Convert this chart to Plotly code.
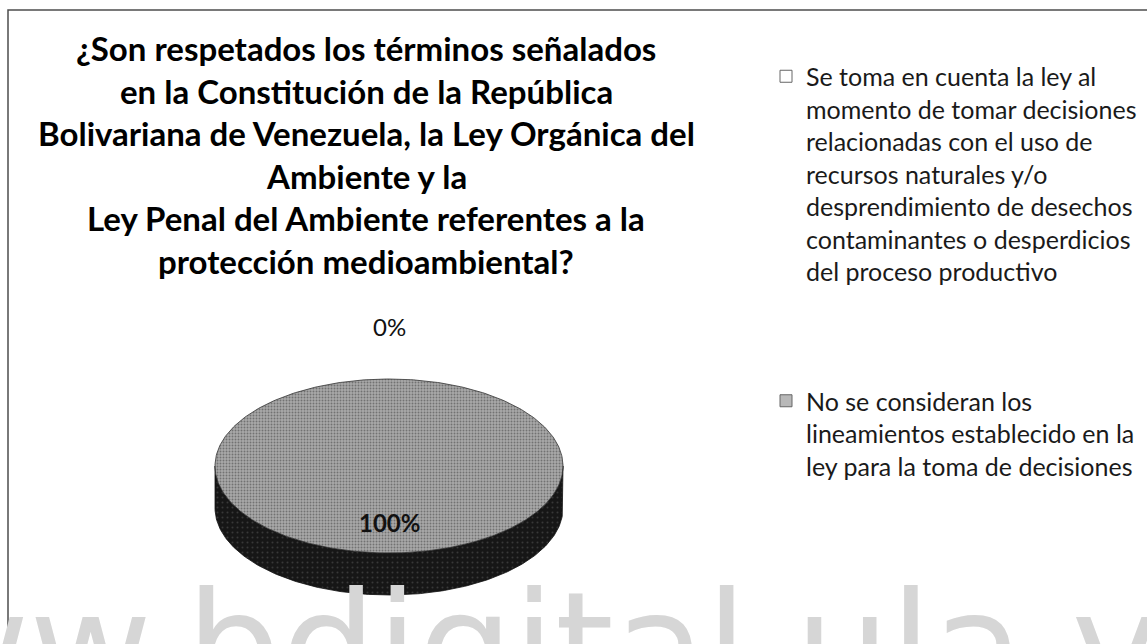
import numpy as np
import plotly.graph_objects as go

# ---------------- data ----------------
categories = [
    "Se toma en cuenta la ley al<br>momento de tomar decisiones<br>relacionadas con el uso de<br>recursos naturales y/o<br>desprendimiento de desechos<br>contaminantes o desperdicios<br>del proceso productivo",
    "No se consideran los<br>lineamientos establecido en la<br>ley para la toma de decisiones",
]
values = [0, 100]
pct_labels = ["0%", "100%"]
title_lines = [
    "¿Son respetados los términos señalados",
    "en la Constitución de la República",
    "Bolivariana de Venezuela, la Ley Orgánica del",
    "Ambiente y la",
    "Ley Penal del Ambiente referentes a la",
    "protección medioambiental?",
]
watermark = "www.bdigital.ula.ve"

# ---------------- styles ----------------
W, H = 1147, 644
cx, cy, rx, ry, depth = 389, 466, 174, 87, 42
top_colors = ["#f4f4f4", "#a9a9a9"]
side_colors = ["#9a9a9a", "#161616"]

total = float(sum(values))
slices = []
start = 90.0
for v in values:
    sweep = 360.0 * v / total
    slices.append((start - sweep, start))
    start -= sweep


def ell(theta_deg, dy=0.0):
    t = np.radians(theta_deg)
    return cx + rx * np.cos(t), cy - ry * np.sin(t) + dy


fig = go.Figure()

# sides (front part of each slice)
for i, (a1, a0) in enumerate(slices):
    if a0 - a1 <= 0:
        continue
    for k in range(-2, 3):
        f0, f1 = -180 + 360 * k, 0 + 360 * k
        b0, b1 = max(a1, f0), min(a0, f1)
        if b1 - b0 <= 0:
            continue
        th = np.linspace(b0, b1, 200)
        xt, yt = ell(th)
        xb, yb = ell(th[::-1], depth)
        fig.add_trace(go.Scatter(
            x=np.concatenate([xt, xb, xt[:1]]),
            y=np.concatenate([yt, yb, yt[:1]]),
            mode="lines", fill="toself",
            fillcolor=side_colors[i],
            fillpattern=dict(shape=".", fgcolor="#5a5a5a", bgcolor=side_colors[i], size=5, solidity=0.12),
            line=dict(color="#111111", width=0.8),
            showlegend=False, hoverinfo="skip"))

# top faces
for i, (a1, a0) in enumerate(slices):
    if a0 - a1 <= 0:
        continue
    th = np.linspace(a0, a1, 400)
    xa, ya = ell(th)
    if a0 - a1 >= 359.999:
        xs, ys = xa, ya
    else:
        xs = np.concatenate([[cx], xa, [cx]])
        ys = np.concatenate([[cy], ya, [cy]])
    fig.add_trace(go.Scatter(
        x=xs, y=ys, mode="lines", fill="toself",
        fillcolor=top_colors[i],
        fillpattern=dict(shape=".", fgcolor="#3c3c3c", bgcolor=top_colors[i], size=3, solidity=0.35),
        line=dict(color="#333333", width=0.8),
        showlegend=False, hoverinfo="skip"))

# legend entries
leg_fill = ["#ffffff", "#b8b8b8"]
for i, name in enumerate(categories):
    fig.add_trace(go.Scatter(
        x=[None], y=[None], mode="markers", name=name, legendgroup=f"g{i}",
        marker=dict(symbol="square", size=12, color=leg_fill[i], line=dict(color="#666666", width=1))))

annotations = []
# percentage labels
for i, (a1, a0) in enumerate(slices):
    mid = (a0 + a1) / 2.0
    share = values[i] / total
    t = np.radians(mid)
    if share < 0.05:
        lx, ly = cx + rx * 1.0 * np.cos(t), cy - ry * 1.6 * np.sin(t)
        txt = pct_labels[i]
    else:
        lx, ly = cx + rx * 0.65 * np.cos(t), cy - ry * 0.65 * np.sin(t)
        txt = f"<b>{pct_labels[i]}</b>"
    annotations.append(dict(x=lx, y=ly, xref="x", yref="y", text=txt, showarrow=False,
                            font=dict(family="Lato", size=24, color="#111111")))

# title lines
for j, line in enumerate(title_lines):
    annotations.append(dict(x=366, y=48 + 42.6 * j, xref="x", yref="y", text=f"<b>{line}</b>",
                            showarrow=False, font=dict(family="Lato", size=33, color="#000000")))

# watermark
annotations.append(dict(x=518 / W, y=1 - 558 / H, xref="paper", yref="paper", xanchor="center",
                        yanchor="top", text=watermark, showarrow=False,
                        font=dict(family="DejaVu Sans", size=150, color="#d6d6d6")))

fig.update_layout(
    width=W, height=H,
    margin=dict(l=0, r=0, t=0, b=0),
    paper_bgcolor="white", plot_bgcolor="white",
    xaxis=dict(range=[0, W], visible=False, fixedrange=True),
    yaxis=dict(range=[H, 0], visible=False, fixedrange=True),
    showlegend=True,
    legend=dict(x=766 / W, xanchor="left", y=1 - 53.5 / H, yanchor="top",
                font=dict(family="Lato", size=25, color="#1a1a1a"),
                tracegroupgap=94, valign="top", bgcolor="rgba(0,0,0,0)"),
    annotations=annotations,
    shapes=[dict(type="rect", xref="paper", yref="paper", x0=8 / W, y0=1 - 10 / H, x1=1.05, y1=-0.05,
                 line=dict(color="#4d4d4d", width=1.5), layer="above")],
)

fig.write_html("out.html", config={"displayModeBar": False},
               post_script="document.body.style.margin='0px';")
